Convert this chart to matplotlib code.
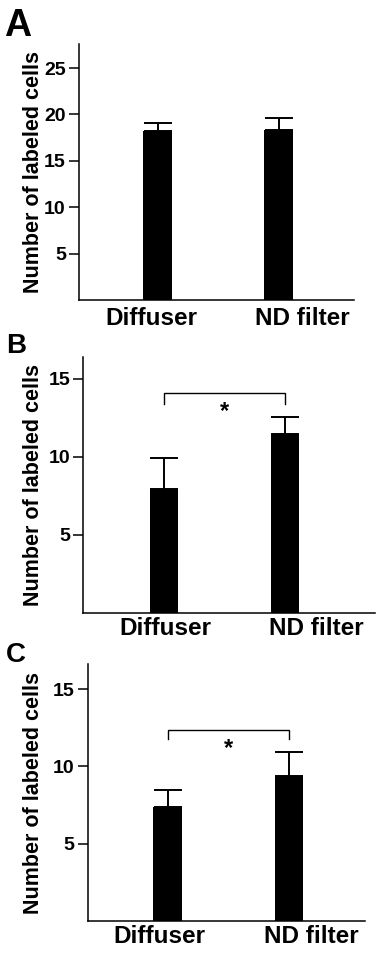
import matplotlib
matplotlib.use("Agg")
import matplotlib.pyplot as plt

plt.rcParams['font.family'] = ['Liberation Sans', 'DejaVu Sans']
plt.rcParams['font.weight'] = 'bold'

categories = ["Diffuser", "ND filter"]

a_means = [18.2, 18.3]
a_errs = [0.9, 1.35]
b_means = [7.95, 11.45]
b_errs = [1.95, 1.1]
c_means = [7.35, 9.4]
c_errs = [1.12, 1.5]

a_yticks = [5, 10, 15, 20, 25]
b_yticks = [5, 10, 15]
c_yticks = [5, 10, 15]

b_sig = (14.05, 13.4, 13.6)   # bracket top, bracket ends, star top
c_sig = (12.32, 11.8, 11.9)

W, H = 378, 958
fig = plt.figure(figsize=(W / 100, H / 100), dpi=100)

def px_axes(left, right, top, bottom):
    return fig.add_axes([left / W, 1 - bottom / H, (right - left) / W, (bottom - top) / H])

panels = [
    dict(box=(79, 354, 44, 300), xlim=(-0.649, 1.624), ylim=(0, 27.6), means=a_means, errs=a_errs,
         yticks=a_yticks, sig=None, letter="A", letter_pos=(4, 36), letter_size=27,
         lab_off=(-6.5, 23.5), lab_base=25),
    dict(box=(83.3, 375, 356.7, 612.7), xlim=(-0.667, 1.744), ylim=(0, 16.4), means=b_means, errs=b_errs,
         yticks=b_yticks, sig=b_sig, letter="B", letter_pos=(6, 353.5), letter_size=20,
         lab_off=(1, 31.7), lab_base=22),
    dict(box=(87.7, 365, 664.3, 921), xlim=(-0.657, 1.626), ylim=(0, 16.6), means=c_means, errs=c_errs,
         yticks=c_yticks, sig=c_sig, letter="C", letter_pos=(6, 662.5), letter_size=20,
         lab_off=(-8.5, 22.7), lab_base=22),
]

xpos = [0, 1]
for p in panels:
    left, right, top, bottom = p["box"]
    ax = px_axes(left, right, top, bottom)
    ax.bar(xpos, p["means"], width=0.235, color="black", zorder=2)
    ax.errorbar(xpos, p["means"], yerr=[[0, 0], p["errs"]], fmt="none", ecolor="black",
                elinewidth=1.4, capsize=10.3, capthick=1.4, zorder=1)
    ax.set_xlim(*p["xlim"])
    ax.set_ylim(*p["ylim"])
    for s in ["top", "right"]:
        ax.spines[s].set_visible(False)
    for s in ["left", "bottom"]:
        ax.spines[s].set_linewidth(1.1)
    ax.set_xticks([])
    ax.set_yticks(p["yticks"])
    ax.tick_params(axis="y", length=7.5, width=1.1, pad=2, labelsize=14)
    for lbl in ax.get_yticklabels():
        lbl.set_fontweight("bold")
    for x, name, off in zip(xpos, categories, p["lab_off"]):
        ax.annotate(name, xy=(x, 0), xycoords=("data", "axes fraction"),
                    xytext=(off * 0.72, -p["lab_base"] * 0.72), textcoords="offset points",
                    ha="center", va="baseline", fontsize=17.5, fontweight="bold")
    if p["sig"] is not None:
        top_y, end_y, star_y = p["sig"]
        ax.plot([xpos[0], xpos[0], xpos[1], xpos[1]], [end_y, top_y, top_y, end_y],
                color="black", lw=1.0, solid_joinstyle="miter", clip_on=False)
        ax.text((xpos[0] + xpos[1]) / 2, star_y, "*", ha="center", va="top",
                fontsize=17, fontweight="bold")
    cy = 1 - (top + bottom) / 2 / H
    fig.text(33.5 / W, cy, "Number of labeled cells", rotation=90, ha="center", va="center",
             fontsize=15.5, fontweight="bold")
    lx, ly = p["letter_pos"]
    fig.text(lx / W, 1 - ly / H, p["letter"], ha="left", va="baseline",
             fontsize=p["letter_size"], fontweight="bold")

fig.savefig("out.png", dpi=100)
